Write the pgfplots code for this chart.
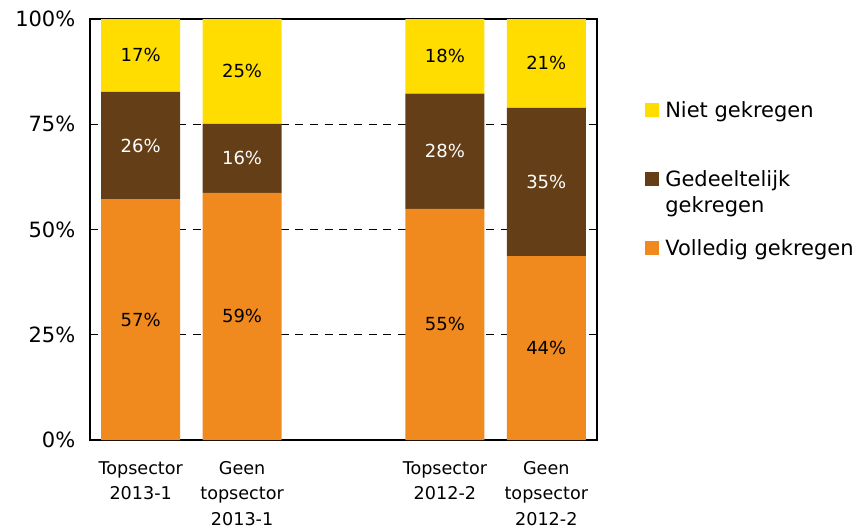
\documentclass[border=0pt]{standalone}
\usepackage{fontspec}
\setmainfont{DejaVu Sans}
\usepackage{pgfplots}
\usepackage{pgfplotstable}
\pgfplotsset{compat=1.18}
\definecolor{cyel}{HTML}{FFDD00}
\definecolor{cbrown}{HTML}{643E17}
\definecolor{corange}{HTML}{F08A1F}

\pgfplotstableread{
x y lab
0 57.2 57
1 58.7 59
3 54.9 55
4 43.7 44
}\volledig
\pgfplotstableread{
x y lab
0 25.5 26
1 16.4 16
3 27.4 28
4 35.2 35
}\gedeeltelijk
\pgfplotstableread{
x y lab
0 17.3 17
1 24.9 25
3 17.7 18
4 21.1 21
}\niet

\begin{document}
\begin{tikzpicture}
\begin{axis}[
  scale only axis, width=380.25pt, height=315.75pt,
  ybar stacked, bar width=0.78,
  xmin=-0.5, xmax=4.5, ymin=0, ymax=100,
  enlarge x limits=false, enlarge y limits=false,
  xtick={0,1,3,4},
  xticklabels={{Topsector\\2013-1},{Geen\\topsector\\2013-1},{Topsector\\2012-2},{Geen\\topsector\\2012-2}},
  xticklabel style={align=center, font=\fontsize{13.2}{19}\selectfont, yshift=-12.5pt},
  ytick={0,25,50,75,100},
  yticklabels={0\%,25\%,50\%,75\%,100\%},
  yticklabel style={font=\fontsize{15.75}{19}\selectfont, xshift=-7.5pt},
  major tick length=5pt, xtick style={draw=none}, ytick style={black, line width=0.6pt},
  tick align=inside,
  ymajorgrids, grid style={black, line width=0.6pt, dash pattern=on 6pt off 5pt},
  axis line style={black, line width=0.9pt},
  nodes near coords={\pgfplotspointmeta\%},
  point meta=explicit symbolic,
  every node near coord/.append style={anchor=center, font=\fontsize{13.5}{16}\selectfont},
  legend style={at={(rel axis cs:1,1)}, anchor=north west, xshift=36pt, yshift=-61.5pt,
    draw=none, fill=none, inner sep=0pt, font=\fontsize{15.75}{19.5}\selectfont,
    nodes={inner sep=0pt, text height=12pt, text depth=24pt, anchor=base west},
    row sep=15.75pt, column sep=4.5pt},
  legend cell align=left,
  reverse legend,
  legend image code/.code={\fill[#1] (0pt,0pt) rectangle (10.5pt,10.5pt);},
]
\addplot[fill=corange, draw=none] table[x=x, y=y, meta=lab] {\volledig};
\addplot[fill=cbrown, draw=none, every node near coord/.append style={text=white}] table[x=x, y=y, meta=lab] {\gedeeltelijk};
\addplot[fill=cyel, draw=none] table[x=x, y=y, meta=lab] {\niet};
\legend{Volledig gekregen, {\begin{tabular}[t]{@{}l@{}}Gedeeltelijk\\gekregen\end{tabular}}, Niet gekregen}
\coordinate (sw) at (rel axis cs:0,0);
\coordinate (ne) at (rel axis cs:1,1);
\end{axis}
\pgfresetboundingbox
\path[use as bounding box] ([shift={(-67.5pt,-66.75pt)}]sw) rectangle ([shift={(194.25pt,14.25pt)}]ne);
\end{tikzpicture}
\end{document}
